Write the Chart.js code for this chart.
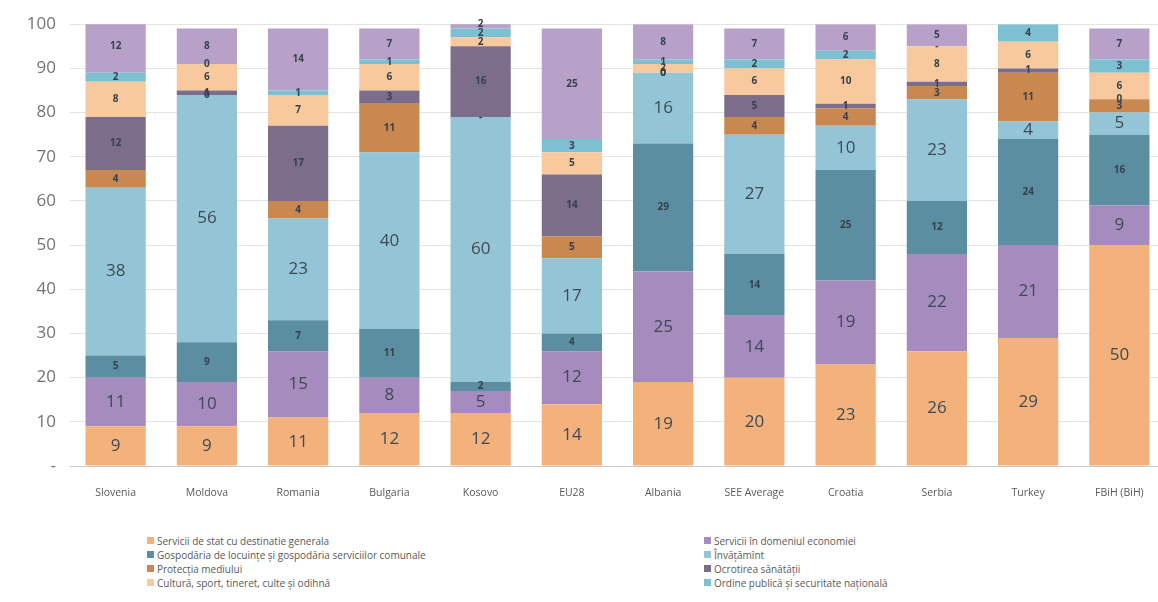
<!DOCTYPE html>
<html>
<head>
<meta charset="utf-8">
<script src="https://cdn.jsdelivr.net/npm/chart.js@4.4.1/dist/chart.umd.min.js"></script>
<style>
  body { margin: 0; background: #fff; overflow: hidden; font-family: "Open Sans", sans-serif; }
  #wrap { position: absolute; left: 0; top: 0; width: 1166px; height: 508px; }
  #legend { position: absolute; left: 147px; top: 534px; width: 800px;
            display: grid; grid-template-columns: 557px 240px; row-gap: 1px;
            font-size: 10px; color: #595959; }
  #legend div { display: flex; align-items: center; height: 13px; white-space: nowrap; }
  #legend span { display: inline-block; width: 7px; height: 7px; margin-right: 3px; }
</style>
</head>
<body>
<div id="wrap"><canvas id="chart"></canvas></div>
<div id="legend"></div>
<script>
let categories = ["Slovenia", "Moldova", "Romania", "Bulgaria", "Kosovo", "EU28", "Albania",
                  "SEE Average", "Croatia", "Serbia", "Turkey", "FBiH (BiH)"];

// bottom to top; null = shown as "-"
let generalServices  = [9, 9, 11, 12, 12, 14, 19, 20, 23, 26, 29, 50];
let economicServices = [11, 10, 15, 8, 5, 12, 25, 14, 19, 22, 21, 9];
let housing          = [5, 9, 7, 11, 2, 4, 29, 14, 25, 12, 24, 16];
let education        = [38, 56, 23, 40, 60, 17, 16, 27, 10, 23, 4, 5];
let environment      = [4, 0, 4, 11, null, 5, 0, 4, 4, 3, 11, 3];
let health           = [12, 1, 17, 3, 16, 14, 0, 5, 1, 1, 1, 0];
let culture          = [8, 6, 7, 6, 2, 5, 2, 6, 10, 8, 6, 6];
let publicOrder      = [2, 0, 1, 1, 2, 3, 1, 2, 2, null, 4, 3];
let other            = [12, 8, 14, 7, 2, 25, 8, 7, 6, 5, 0, 7];

let yTicks = [0, 10, 20, 30, 40, 50, 60, 70, 80, 90, 100];

let series = [
    { label: "Servicii de stat cu destinatie generala", data: generalServices, color: "#F3B27B", big: true },
    { label: "Servicii în domeniul economiei", data: economicServices, color: "#A68BBF", big: true },
    { label: "Gospodăria de locuințe și gospodăria serviciilor comunale", data: housing, color: "#5B8EA1", big: false },
    { label: "Învățămînt", data: education, color: "#93C5D6", big: true },
    { label: "Protecția mediului", data: environment, color: "#C8884F", big: false },
    { label: "Ocrotirea sănătății", data: health, color: "#7C6E8B", big: false },
    { label: "Cultură,  sport, tineret, culte și odihnă", data: culture, color: "#F8C99C", big: false },
    { label: "Ordine publică și securitate națională", data: publicOrder, color: "#7CC0D1", big: false },
    { label: "", data: other, color: "#B8A1C8", big: false }
];

// writes the value in the middle of every segment
const segmentLabels = {
    id: "segmentLabels",
    afterDatasetsDraw(chart) {
        let ctx = chart.ctx;
        let x = chart.scales.x, y = chart.scales.y;
        ctx.save();
        ctx.textAlign = "center";
        ctx.textBaseline = "middle";
        categories.forEach((c, j) => {
            let base = 0;
            series.forEach((s, i) => {
                let v = s.data[j];
                let h = v || 0;
                let mid = base + h / 2;
                base += h;
                if (i === series.length - 1 && v === 0) return;
                ctx.font = s.big ? "17px 'Open Sans'" : "bold 10px 'Open Sans'";
                ctx.fillStyle = s.big ? "#3f4956" : "#37404d";
                ctx.fillText(v === null ? "-" : String(v), x.getPixelForValue(j), y.getPixelForValue(mid));
            });
        });
        ctx.restore();
    }
};

let chart = new Chart(document.getElementById("chart"), {
    type: "bar",
    data: {
        labels: categories,
        datasets: series.map(s => ({
            label: s.label,
            data: s.data.map(v => v || 0),
            backgroundColor: s.color,
            barPercentage: 0.66,
            categoryPercentage: 1
        }))
    },
    options: {
        responsive: true,
        maintainAspectRatio: false,
        animation: false,
        layout: { padding: { top: 18, right: 1, left: 0, bottom: 0 } },
        plugins: { legend: { display: false }, tooltip: { enabled: false } },
        scales: {
            x: {
                stacked: true,
                grid: { display: false },
                border: { color: "#c9c9c9" },
                ticks: { color: "#595959", font: { family: "Open Sans", size: 10.5 }, padding: 13, maxRotation: 0 },
                afterFit: s => { s.height = 42; }
            },
            y: {
                stacked: true,
                min: 0,
                max: 100,
                afterBuildTicks: s => { s.ticks = yTicks.map(v => ({ value: v })); },
                grid: { color: "#e4e4e4", drawTicks: false },
                border: { display: false },
                ticks: {
                    color: "#737373",
                    font: { family: "Open Sans", size: 17 },
                    padding: 14,
                    callback: v => v === 0 ? "-" : v
                },
                afterFit: s => { s.width = 70; }
            }
        }
    },
    plugins: [segmentLabels]
});

// two-column legend, row by row like the original
let legendDiv = document.getElementById("legend");
series.slice(0, 8).forEach(s => {
    let item = document.createElement("div");
    let box = document.createElement("span");
    box.style.background = s.color;
    item.appendChild(box);
    item.appendChild(document.createTextNode(s.label));
    legendDiv.appendChild(item);
});
</script>
</body>
</html>
